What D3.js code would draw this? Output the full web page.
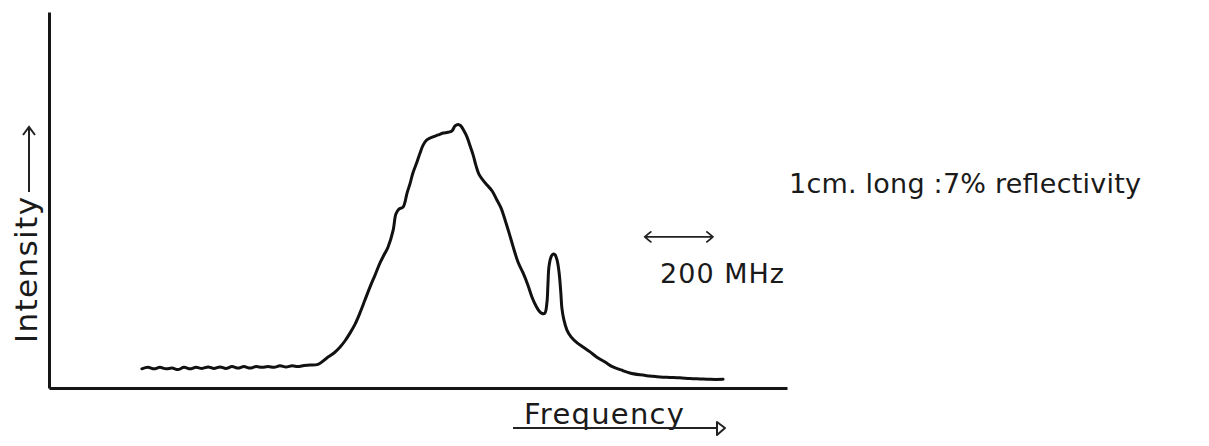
<!DOCTYPE html>
<html>
<head>
<meta charset="utf-8">
<script src="https://cdn.jsdelivr.net/npm/d3@7"></script>
<style>
  body { margin: 0; background: #fff; }
  .label { font-family: "DejaVu Sans", sans-serif; fill: #1a1a1a; }
</style>
</head>
<body>
<div id="chart"></div>
<script>
// Frequency (MHz, from left axis) and intensity (arb. units, 0-100)
const freqMHz = [
  273, 291, 309, 326, 344, 362, 379, 397, 415, 432, 450, 468, 485, 503, 520,
  538, 556, 573, 591, 609, 626, 644, 662, 679, 697, 715, 732, 750, 767,
  791, 817, 838, 856, 870, 885, 900, 914, 929, 944, 959, 973, 988, 997,
  1012, 1020, 1029, 1041, 1053, 1062, 1070, 1082, 1091, 1100, 1111, 1129,
  1144, 1159, 1173, 1185, 1194, 1203, 1211, 1220, 1229, 1238, 1247, 1256,
  1264, 1276, 1288, 1303, 1317, 1329, 1341, 1353, 1364, 1379, 1394, 1408,
  1420, 1432, 1441, 1450, 1458, 1464, 1467, 1470, 1476, 1482, 1488, 1494,
  1500, 1505, 1508, 1514, 1523, 1535, 1553, 1570, 1591, 1611, 1635, 1658,
  1682, 1708, 1738, 1767, 1797, 1826, 1855, 1885, 1914, 1944, 1982
];
const intensity = [
  5.1, 5.5, 5.1, 5.5, 5.1, 5.3, 4.9, 5.5, 5.1, 5.5, 5.2, 5.6, 5.2, 5.6, 5.2,
  5.7, 5.3, 5.7, 5.3, 5.7, 5.5, 5.7, 5.5, 5.9, 5.6, 5.9, 5.7, 6.0, 6.1,
  6.3, 8.0, 9.3, 10.9, 12.5, 14.6, 17.0, 19.9, 23.4, 26.9, 30.1, 33.2, 35.9, 37.5,
  42.0, 46.3, 47.6, 48.1, 51.9, 54.5, 57.2, 60.1, 62.5, 64.6, 66.0, 66.8,
  67.3, 67.8, 68.0, 68.4, 69.7, 70.1, 69.7, 68.4, 66.8, 64.4, 62.0, 59.0,
  56.9, 55.3, 54.0, 52.4, 50.0, 47.9, 44.7, 41.2, 37.8, 33.5, 30.6, 27.4,
  24.2, 21.8, 20.5, 19.8, 19.9, 22.6, 27.4, 32.2, 34.8, 35.6, 35.4, 34.0,
  30.6, 25.3, 21.3, 18.1, 15.4, 13.6, 12.0, 10.9, 9.6, 8.2, 6.9, 5.6,
  4.8, 4.0, 3.5, 3.2, 2.9, 2.8, 2.7, 2.5, 2.4, 2.3, 2.3
];
const freqDomain = [0, 2170];
const intensityDomain = [0, 100];
const scaleBarMHz = 200;
const scaleBarStart = 1752;
const scaleBarLevel = 40.2;

class Spectrum {
  constructor(_config, _freq, _intensity) {
    this.config = {
      parentElement: _config.parentElement,
      containerWidth: _config.containerWidth || 1209,
      containerHeight: _config.containerHeight || 446
    };
    this.data = _freq.map((f, i) => ({ f: f, v: _intensity[i] }));
    this.initVis();
  }

  initVis() {
    let vis = this;

    vis.xScale = d3.scaleLinear().domain(freqDomain).range([49, 787]);
    vis.yScale = d3.scaleLinear().domain(intensityDomain).range([388, 12]);

    vis.svg = d3.select(vis.config.parentElement).append('svg')
        .attr('width', vis.config.containerWidth)
        .attr('height', vis.config.containerHeight)
        .style('background', '#fff');

    // bare axes, no ticks
    const xAxis = d3.axisBottom(vis.xScale).tickValues([]).tickSizeOuter(0);
    const yAxis = d3.axisLeft(vis.yScale).tickValues([]).tickSizeOuter(0);

    vis.svg.append('g')
        .attr('transform', `translate(0,${vis.yScale(0)})`)
        .call(xAxis)
        .call(g => g.select('.domain').attr('stroke', '#151515').attr('stroke-width', 3));

    vis.svg.append('g')
        .attr('transform', `translate(${vis.xScale(0)},0)`)
        .call(yAxis)
        .call(g => g.select('.domain').attr('stroke', '#151515').attr('stroke-width', 3));

    vis.renderVis();
  }

  renderVis() {
    let vis = this;

    const line = d3.line()
        .x(d => vis.xScale(d.f))
        .y(d => vis.yScale(d.v))
        .curve(d3.curveCatmullRom.alpha(0.5));

    vis.svg.append('path')
        .datum(vis.data)
        .attr('fill', 'none')
        .attr('stroke', '#111')
        .attr('stroke-width', 3)
        .attr('stroke-linejoin', 'round')
        .attr('stroke-linecap', 'round')
        .attr('d', line);

    // 200 MHz scale bar
    const x0 = vis.xScale(scaleBarStart);
    const x1 = vis.xScale(scaleBarStart + scaleBarMHz);
    const yb = vis.yScale(scaleBarLevel);
    vis.svg.append('path')
        .attr('fill', 'none')
        .attr('stroke', '#222')
        .attr('stroke-width', 1.8)
        .attr('stroke-linecap', 'round')
        .attr('d', `M${x0},${yb}H${x1}M${x0 + 6},${yb - 5}Q${x0 + 1},${yb - 1} ${x0},${yb}Q${x0 + 1},${yb + 1} ${x0 + 6},${yb + 5}` +
                   `M${x1 - 6},${yb - 5}Q${x1 - 1},${yb - 1} ${x1},${yb}Q${x1 - 1},${yb + 1} ${x1 - 6},${yb + 5}`);

    vis.svg.append('text')
        .attr('class', 'label')
        .attr('x', 660).attr('y', 283)
        .attr('font-size', 27)
        .attr('textLength', 124).attr('lengthAdjust', 'spacing')
        .text('200 MHz');

    vis.svg.append('text')
        .attr('class', 'label')
        .attr('x', 789).attr('y', 193)
        .attr('font-size', 27)
        .attr('textLength', 352).attr('lengthAdjust', 'spacing')
        .text('1cm. long :7% reflectivity');

    // y axis title with arrow
    vis.svg.append('text')
        .attr('class', 'label')
        .attr('transform', 'translate(37,343) rotate(-90)')
        .attr('font-size', 31)
        .attr('textLength', 146).attr('lengthAdjust', 'spacing')
        .text('Intensity');
    vis.svg.append('path')
        .attr('fill', 'none')
        .attr('stroke', '#222')
        .attr('stroke-width', 2)
        .attr('d', 'M29,192V128M23,135L29,127L35,135');

    // x axis title, underlined, with arrow
    vis.svg.append('text')
        .attr('class', 'label')
        .attr('x', 524).attr('y', 424)
        .attr('font-size', 29)
        .attr('textLength', 160).attr('lengthAdjust', 'spacing')
        .text('Frequency');
    vis.svg.append('path')
        .attr('fill', 'none')
        .attr('stroke', '#222')
        .attr('stroke-width', 2)
        .attr('stroke-linejoin', 'round')
        .attr('d', 'M513,428H717M717,422L725,428L717,435Z');
  }
}

new Spectrum({ parentElement: '#chart' }, freqMHz, intensity);
</script>
</body>
</html>
